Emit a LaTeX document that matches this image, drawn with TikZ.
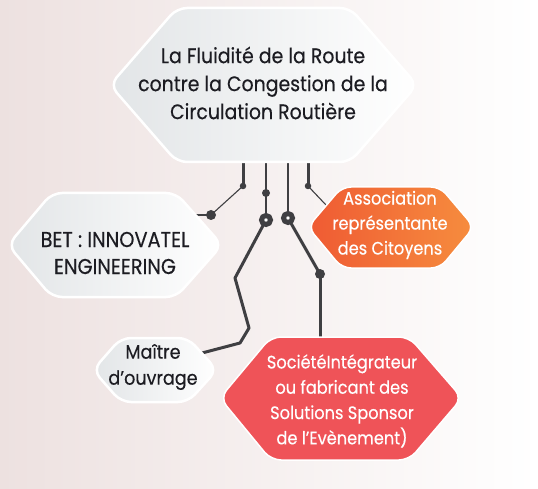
\documentclass[tikz,border=0pt]{standalone}
\usepackage{fontspec}
\setmainfont{Poppins}[FakeStretch=0.9, FakeBold=0.35]
\definecolor{bgl}{HTML}{EDE1E0}
\definecolor{bgm}{HTML}{F6F3F3}
\definecolor{hexg}{HTML}{E2E5E7}
\definecolor{hexm}{HTML}{EEF0F1}
\definecolor{orA}{HTML}{EF5A33}
\definecolor{orB}{HTML}{F68D3E}
\definecolor{redc}{HTML}{EF5358}
\definecolor{lc}{HTML}{3F3F42}
\definecolor{txt}{HTML}{1C1C22}
\pgfdeclarelayer{bglayer}
\pgfdeclarelayer{lines}
\pgfsetlayers{bglayer,lines,main}
\begin{document}
\begin{tikzpicture}[x=1pt,y=-1pt,
  hexw/.style={draw=white, line width=2.5pt, rounded corners=10pt, left color=hexg, middle color=hexm, right color=white},
  hexo/.style={draw=white, line width=1.5pt, rounded corners=9pt, left color=orA, right color=orB},
  hexr/.style={draw=white, line width=1.5pt, rounded corners=10pt, fill=redc},
  lbl/.style={align=center, inner sep=0pt, text=txt},
  lblw/.style={align=center, inner sep=0pt, text=white},
  conthick/.style={draw=lc, line width=3pt, line join=round, line cap=round},
  conmed/.style={draw=lc, line width=2.2pt},
  conthin/.style={draw=lc, line width=1.1pt},
  dotsmall/.style={circle, fill=lc, inner sep=0pt, minimum size=6.5pt},
  dotbig/.style={circle, fill=lc, inner sep=0pt, minimum size=10pt},
  ring/.style={circle, fill=white, draw=lc, line width=5pt, inner sep=0pt, minimum size=9pt},
  anchorpt/.style={inner sep=0pt, minimum size=0pt}]
\useasboundingbox (0,0) rectangle (538,489);
\begin{pgfonlayer}{bglayer}
\shade[left color=bgl, middle color=bgm, right color=white] (0,0) rectangle (538,489);
\end{pgfonlayer}

% hexagons
\path[hexw] (110,85) -- (177,8) -- (350,8) -- (417,85) -- (350,162) -- (177,162) -- cycle;
\path[hexw] (8,245) -- (52,193) -- (176,193) -- (222,245) -- (176,297) -- (52,297) -- cycle;
\path[hexo] (308,227) -- (342,187) -- (440,187) -- (474,227) -- (440,268) -- (342,268) -- cycle;
\path[hexw] (93,370) -- (121,338) -- (188,338) -- (217,370) -- (188,402) -- (121,402) -- cycle;
\path[hexr] (220,398) -- (271,337) -- (409,337) -- (462,398) -- (409,460) -- (271,460) -- cycle;

% labels
\node[lbl, font=\fontsize{21}{28}\selectfont] (top) at (263,83) {La Fluidité de la Route\\contre la Congestion de la\\Circulation Routière};
\node[lbl, font=\fontsize{21.5}{27}\selectfont] (bet) at (115,253) {BET : INNOVATEL\\ENGINEERING};
\node[lblw, font=\fontsize{18}{25}\selectfont] (asso) at (390,225) {Association\\représentante\\des Citoyens};
\node[lbl, font=\fontsize{19.5}{26}\selectfont] (mo) at (153,367) {Maître\\d’ouvrage};
\node[lblw, font=\fontsize{18}{25.3}\selectfont] (soc) at (342,401) {SociétéIntégrateur\\ou fabricant des\\Solutions Sponsor\\de l’Evènement)};

% connection points on the hexagon edges
\node[anchorpt] (t1) at (243,160) {};
\node[anchorpt] (t2) at (266,160) {};
\node[anchorpt] (t3) at (288,160) {};
\node[anchorpt] (t4) at (308,160) {};
\node[anchorpt] (betE) at (194,215) {};
\node[anchorpt] (moE) at (202,353) {};
\node[anchorpt] (socE) at (320,339) {};
\node[anchorpt] (assoE) at (326,205) {};
\node[anchorpt] (b1) at (235,278) {};
\node[anchorpt] (b2) at (249,328) {};
\node[anchorpt] (b3) at (240,343) {};

% dots
\node[dotsmall] (d1) at (243,186) {};
\node[dotbig] (d2) at (211,215) {};
\node[dotsmall, minimum size=8pt] (d3) at (266,193) {};
\node[ring] (r1) at (266,220) {};
\node[ring] (r2) at (288,218) {};
\node[dotbig] (d4) at (320,274) {};
\node[dotsmall] (d5) at (308,186) {};

\begin{pgfonlayer}{lines}
\draw[conthick, line cap=butt] (t1.center) -- (d1.center);
\draw[conthin] (d1.center) -- (d2.center);
\draw[conthin, line width=1.6pt] (d2.center) -- (betE.center);
\draw[conmed] (t2.center) -- (r1.center);
\draw[conthick] (r1.center) -- (b1.center) -- (b2.center) -- (b3.center) -- (moE.center);
\draw[conthin] (t3.center) -- (r2.center);
\draw[conthick] (r2.center) -- (d4.center);
\draw[conthick, line cap=butt] (d4.center) -- (socE.center);
\draw[conthick, line cap=butt] (t4.center) -- (d5.center);
\draw[conthin] (d5.center) -- (assoE.center);
\end{pgfonlayer}
\end{tikzpicture}
\end{document}
